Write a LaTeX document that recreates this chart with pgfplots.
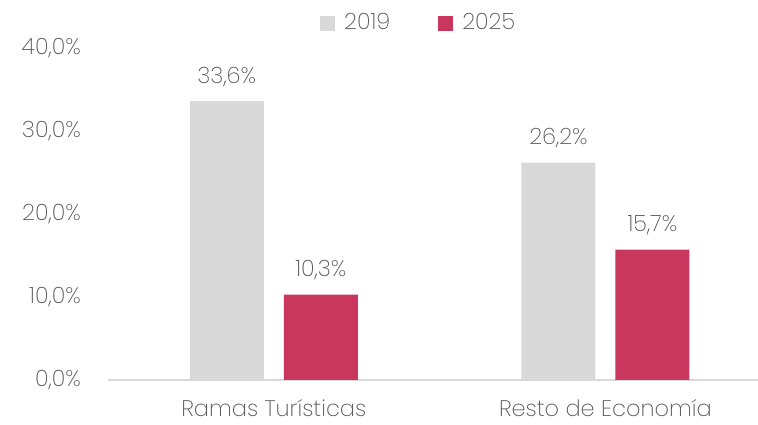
\documentclass[border=0pt]{standalone}
\usepackage{pgfplots}
\pgfplotsset{compat=1.18}
\usepackage{fontspec}
\setmainfont{Poppins}[UprightFont={* ExtraLight}]
\definecolor{barGray}{HTML}{D9D9D9}
\definecolor{barRed}{HTML}{C9365E}
\definecolor{txtGray}{HTML}{595959}
\definecolor{lineGray}{HTML}{D9D9D9}
\begin{document}
\begin{tikzpicture}
\fontsize{22.5pt}{27pt}\selectfont
\useasboundingbox (-108pt,-45pt) rectangle (650pt,380pt);
\begin{axis}[
  at={(0pt,0pt)}, anchor=south west,
  scale only axis, width=650pt, height=332pt,
  ybar=20pt, bar width=74pt,
  ymin=0, ymax=40,
  xmin=-0.5, xmax=1.46,
  xtick={0,1}, xticklabels={Ramas Turísticas, Resto de Economía},
  ytick={0,10,20,30,40},
  axis x line=bottom, axis y line=left,
  x axis line style={-, draw=lineGray, line width=1.5pt},
  y axis line style={draw=none},
  major tick length=0pt,
  /pgf/number format/assume math mode=true,
  yticklabel={\pgfmathprintnumber[fixed,fixed zerofill,precision=1,use comma]{\tick}\%},
  ticklabel style={font=\fontsize{22.5pt}{27pt}\selectfont, text=txtGray},
  yticklabel style={anchor=east, inner sep=0pt, xshift=-27pt},
  xticklabel style={anchor=base, inner sep=0pt, yshift=-37pt},
  nodes near coords={\pgfmathprintnumber[fixed,fixed zerofill,precision=1,use comma]{\pgfplotspointmeta}\%},
  nodes near coords style={font=\fontsize{22.5pt}{27pt}\selectfont, text=txtGray, anchor=base, inner sep=0pt, yshift=18pt},
  legend columns=2,
  legend style={draw=none, fill=none, at={(0.478,1.075)}, anchor=center,
    font=\fontsize{22.5pt}{27pt}\selectfont, text=txtGray,
    /tikz/every odd column/.append style={column sep=7pt},
    /tikz/every even column/.append style={column sep=46pt}},
  legend image code/.code={\fill[#1] (0pt,-7.5pt) rectangle (15pt,7.5pt);},
  clip=false,
]
\addplot[fill=barGray, draw=none] coordinates {(0,33.6) (1,26.2)};
\addplot[fill=barRed, draw=none] coordinates {(0,10.3) (1,15.7)};
\legend{2019, 2025}
\end{axis}
\end{tikzpicture}
\end{document}
